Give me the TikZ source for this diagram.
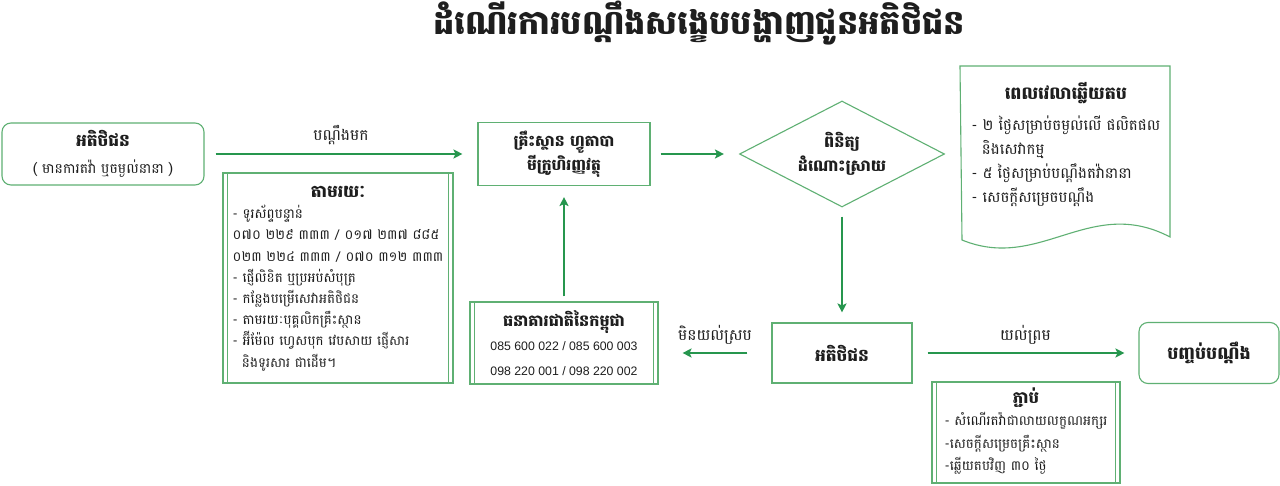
\documentclass[tikz,border=0pt]{standalone}
\usepackage{fontspec}
\usepackage{xcolor}
\setmainfont{Battambang}[Script=Khmer]
\newfontfamily\numfont{Liberation Sans}
\usetikzlibrary{positioning,shapes.geometric,arrows.meta}
\definecolor{arrowgreen}{RGB}{38,150,78}
\definecolor{boxgreen}{RGB}{95,176,115}
\definecolor{ink}{RGB}{30,30,30}

\begin{document}
\begin{tikzpicture}[x=1pt,y=-1pt,
	flow/.style={-{Stealth[length=9pt,width=9pt,inset=2pt]},arrowgreen,line width=2pt},
	plainbox/.style={draw=boxgreen,line width=1.1pt,fill=white,inner sep=0pt,align=center,text=ink},
	roundbox/.style={plainbox,rounded corners=9pt},
	listbox/.style={plainbox,path picture={
		\draw[boxgreen,line width=1.1pt]([xshift=4.5pt]path picture bounding box.north west)--([xshift=4.5pt]path picture bounding box.south west)
		([xshift=-4.5pt]path picture bounding box.north east)--([xshift=-4.5pt]path picture bounding box.south east);}},
	lbl/.style={text=ink,font=\fontsize{15.5}{18}\selectfont}]
	\useasboundingbox[fill=white](0,0)rectangle(1280,486);
	\node[text=ink,font=\fontsize{33.5}{38}\selectfont\bfseries](title)at(699,23){ដំណើរការបណ្តឹងសង្ខេបបង្ហាញជូនអតិថិជន};
	\node[roundbox,minimum width=202pt,minimum height=62pt,font=\fontsize{14}{27}\selectfont](client)at(103,154){{\fontsize{17}{27}\selectfont\bfseries អតិថិជន}\\( មានការតវ៉ា ឬចម្ងល់នានា )};
	\node[plainbox,minimum width=172pt,minimum height=63pt,font=\fontsize{15.5}{24}\selectfont\bfseries](mfi)at(564,154){គ្រឹះស្ថាន ហ្វូតាបា\\មីក្រូហិរញ្ញវត្ថុ};
	\node[diamond,aspect=2,draw=boxgreen,line width=1.1pt,minimum width=205pt,minimum height=106pt,inner sep=0pt,align=center,text=ink,font=\fontsize{16}{24}\selectfont\bfseries](check)at(842,154){ពិនិត្យ\\ដំណោះស្រាយ};
	\node[listbox,minimum width=230pt,minimum height=210pt,font=\fontsize{13.5}{21.2}\selectfont](channel)at(338,278){\begin{tabular}{@{}l@{}}
		\multicolumn{1}{@{}c@{}}{\fontsize{17}{21.2}\selectfont\bfseries តាមរយៈ}\\
		- ទូរស័ព្ទបន្ទាន់\\
		០៧០ ២២៩ ៣៣៣ / ០១៧ ២៣៧ ៨៨៥\\
		០២៣ ២២៤ ៣៣៣ / ០៧០ ៣១២ ៣៣៣\\
		- ផ្ញើលិខិត ឬប្រអប់សំបុត្រ\\
		- កន្លែងបម្រើសេវាអតិថិជន\\
		- តាមរយៈបុគ្គលិកគ្រឹះស្ថាន\\
		- អ៊ីម៉ែល ហ្វេសបុក វេបសាយ ផ្ញើសារ\\
		\ \ និងទូរសារ ជាដើម។
	\end{tabular}};
	\draw[boxgreen,line width=1.1pt](960,66)--(1170,66)--(1170,237)..controls(1090,195)and(1040,272)..(962,240)--cycle;
	\node[text=ink,font=\fontsize{15}{24}\selectfont](timing)at(1066,146){\begin{tabular}{@{}l@{}}
		\multicolumn{1}{@{}c@{}}{\fontsize{17.5}{24}\selectfont\bfseries ពេលវេលាឆ្លើយតប}\\[7pt]
		- ២ ថ្ងៃសម្រាប់ចម្ងល់លើ ផលិតផល\\
		\ \ និងសេវាកម្ម\\
		- ៥ ថ្ងៃសម្រាប់បណ្តឹងតវ៉ានានា\\
		- សេចក្តីសម្រេចបណ្តឹង
	\end{tabular}};
	\node[listbox,minimum width=188pt,minimum height=82pt,font=\fontsize{12.3}{24.5}\selectfont](nbc)at(564,343){{\fontsize{16}{24.5}\selectfont\bfseries ធនាគារជាតិនៃកម្ពុជា}\\{\numfont 085 600 022 / 085 600 003}\\{\numfont 098 220 001 / 098 220 002}};
	\node[plainbox,minimum width=140pt,minimum height=60pt,font=\fontsize{17}{20}\selectfont\bfseries](client2)at(842,353){អតិថិជន};
	\node[roundbox,minimum width=140pt,minimum height=61pt,font=\fontsize{17.5}{20}\selectfont\bfseries](closing)at(1209,353){បញ្ចប់បណ្តឹង};
	\node[listbox,minimum width=188pt,minimum height=101pt,font=\fontsize{13.5}{22.5}\selectfont](attach)at(1026,432.5){\begin{tabular}{@{}l@{}}
		\multicolumn{1}{@{}c@{}}{\fontsize{16.5}{22.5}\selectfont\bfseries ភ្ជាប់}\\
		- សំណើរតវ៉ាជាលាយលក្ខណអក្សរ\\
		-សេចក្តីសម្រេចគ្រឹះស្ថាន\\
		-ឆ្លើយតបវិញ ៣០ ថ្ងៃ
	\end{tabular}};
	\draw[flow,shorten <=11pt,shorten >=15pt](client)--(mfi)node[midway,above=5pt,lbl]{បណ្តឹងមក};
	\draw[flow,shorten <=10pt,shorten >=15pt](mfi)--(check);
	\draw[flow,shorten <=9pt,shorten >=10pt](check)--(client2);
	\draw[flow,shorten <=24pt,shorten >=24pt](client2.west)--(client2.west-|nbc.east)node[midway,above=4pt,lbl]{មិនយល់ស្រប};
	\draw[flow,shorten <=15pt,shorten >=14pt](client2)--(closing)node[midway,above=4pt,lbl]{យល់ព្រម};
	\draw[flow,shorten <=5pt,shorten >=11pt](nbc)--(mfi);
\end{tikzpicture}
\end{document}
